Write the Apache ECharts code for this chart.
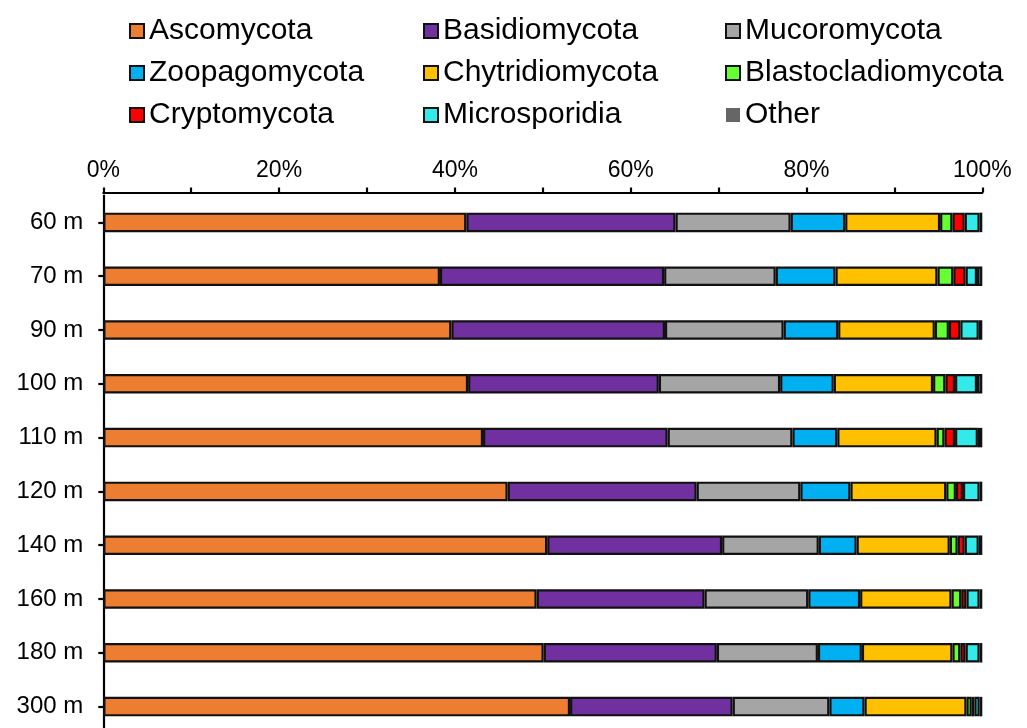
<!DOCTYPE html>
<html>
<head>
<meta charset="utf-8">
<script src="https://cdn.jsdelivr.net/npm/echarts@6/dist/echarts.min.js"></script>
<style>
html,body{margin:0;padding:0;background:#fff;overflow:hidden;width:1027px;height:728px;}
#chart{width:1027px;height:745px;}
</style>
</head>
<body>
<div id="chart"></div>
<script>
var categories = ['60 m','70 m','90 m','100 m','110 m','120 m','140 m','160 m','180 m','300 m'];
var seriesNames = ['Ascomycota','Basidiomycota','Mucoromycota','Zoopagomycota','Chytridiomycota','Blastocladiomycota','Cryptomycota','Microsporidia','Other'];
var colors = ['#ED7D31','#7030A0','#A5A5A5','#00B0F0','#FFC000','#66FF33','#FF0000','#33EAEA','#666666'];

var ascomycota       = [41.3, 38.3, 39.6, 41.5, 43.2, 46.0, 50.5, 49.3, 50.1, 53.1];
var basidiomycota    = [23.8, 25.5, 24.3, 21.7, 21.0, 21.5, 19.9, 19.1, 19.7, 18.5];
var mucoromycota     = [13.1, 12.7, 13.5, 13.8, 14.2, 11.8, 11.0, 11.8, 11.5, 11.0];
var zoopagomycota    = [6.2, 6.8, 6.2, 6.1, 5.1, 5.7, 4.3, 5.9, 5.0, 4.0];
var chytridiomycota  = [10.8, 11.6, 11.0, 11.3, 11.3, 10.9, 10.6, 10.4, 10.3, 11.6];
var blastocladiomycota = [1.4, 1.8, 1.6, 1.4, 0.9, 1.1, 0.9, 1.1, 0.9, 0.6];
var cryptomycota     = [1.4, 1.4, 1.3, 1.1, 1.2, 0.8, 0.8, 0.6, 0.6, 0.3];
var microsporidia    = [1.7, 1.3, 2.1, 2.5, 2.6, 1.9, 1.6, 1.5, 1.6, 0.6];
var other            = [0.3, 0.6, 0.4, 0.6, 0.5, 0.3, 0.4, 0.3, 0.3, 0.3];

var allData = [ascomycota, basidiomycota, mucoromycota, zoopagomycota, chytridiomycota, blastocladiomycota, cryptomycota, microsporidia, other];

var series = seriesNames.map(function(name, i){
  return {
    name: name,
    type: 'bar',
    stack: 'total',
    barWidth: 19.5,
    data: allData[i],
    itemStyle: {
      color: colors[i],
      borderColor: '#111',
      borderWidth: 2.2
    },
    emphasis: {disabled: true}
  };
});

var fontFam = 'Liberation Sans, Arial, sans-serif';
function legendCol(left, names){
  return {
    orient: 'vertical',
    left: left,
    top: 11,
    itemWidth: 14,
    itemHeight: 14,
    itemGap: 12,
    icon: 'rect',
    selectedMode: false,
    textStyle: {fontFamily: fontFam, fontSize: 30, color: '#000', lineHeight: 30},
    data: names.map(function(n){
      var idx = seriesNames.indexOf(n);
      var d = {name: n, itemStyle: {color: colors[idx], borderColor: '#111', borderWidth: 2}};
      if (n === 'Other') d.itemStyle = {color: colors[idx], borderWidth: 0};
      return d;
    })
  };
}

var chart = echarts.init(document.getElementById('chart'));
chart.setOption({
  animation: false,
  backgroundColor: '#fff',
  legend: [
    legendCol(124, ['Ascomycota','Zoopagomycota','Cryptomycota']),
    legendCol(418, ['Basidiomycota','Chytridiomycota','Microsporidia']),
    legendCol(720, ['Mucoromycota','Blastocladiomycota','Other'])
  ],
  grid: {left: 103.3, right: 44.7, top: 195.5, height: 538, containLabel: false},
  xAxis: {
    type: 'value',
    position: 'top',
    offset: 3,
    min: 0, max: 100, interval: 10,
    axisLine: {show: true, lineStyle: {color: '#000', width: 2.2}},
    axisTick: {show: true, length: 5, lineStyle: {color: '#000', width: 2.2}},
    splitLine: {show: false},
    axisLabel: {
      fontFamily: fontFam, fontSize: 23, color: '#000', margin: 10,
      showMinLabel: true, showMaxLabel: true,
      formatter: function(v){ return (Math.round(v) % 20 === 0) ? Math.round(v) + '%' : ''; }
    }
  },
  yAxis: {
    type: 'category',
    inverse: true,
    data: categories,
    axisLine: {show: true, lineStyle: {color: '#000', width: 2.2}},
    axisTick: {show: true, alignWithLabel: true, length: 5, lineStyle: {color: '#000', width: 2.2}},
    axisLabel: {fontFamily: fontFam, fontSize: 24, color: '#000', margin: 20}
  },
  series: series
});
</script>
</body>
</html>
